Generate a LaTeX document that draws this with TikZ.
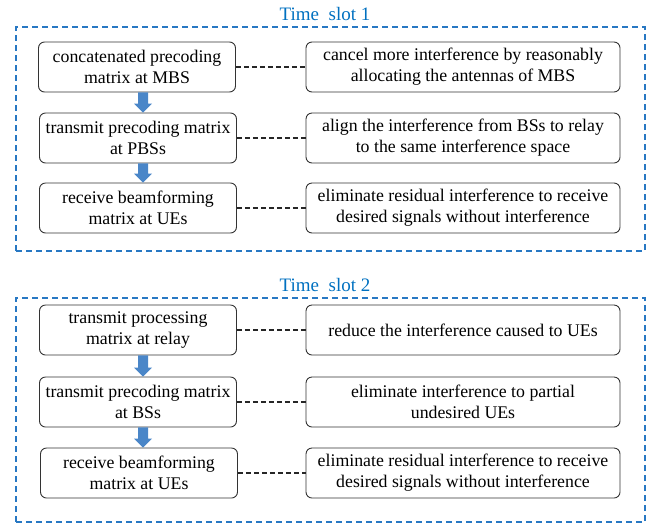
\documentclass[tikz,border=0pt]{standalone}
\usepackage{fontspec}
\setmainfont{Liberation Serif}
\newfontfamily\tnr{Liberation Serif}
\usetikzlibrary{calc}
\definecolor{slotblue}{RGB}{0,112,192}
\definecolor{framblue}{RGB}{40,120,195}
\definecolor{arrowblue}{RGB}{74,134,200}
\begin{document}
\begin{tikzpicture}[x=1pt,y=-1pt,
  box/.style={draw=black!80, line width=0.9pt, rounded corners=6pt, align=center,
    font=\tnr\fontsize{17.8}{21}\selectfont, inner sep=0pt, minimum height=50pt},
  lbox/.style={box, minimum width=197pt},
  rbox/.style={box, minimum width=314pt},
  link/.style={draw=black!85, line width=1.2pt, dash pattern=on 5pt off 3pt},
  frame/.style={draw=framblue, line width=1.3pt, dash pattern=on 6pt off 4pt,
    minimum width=629pt, inner sep=0pt},
  slottitle/.style={text=slotblue, font=\tnr\fontsize{19}{21}\selectfont, inner sep=0pt},
  flow/.style={fill=arrowblue}]
\useasboundingbox (0,0) rectangle (660,523);

% frames and titles
\node[frame, minimum height=224pt] (f1) at (330.5,139) {};
\node[slottitle] (t1) at (325,14) {Time\ \ slot 1};
\node[frame, minimum height=224pt] (f2) at (330.5,410) {};
\node[slottitle] (t2) at (325,285) {Time\ \ slot 2};

% slot 1
\node[lbox] (a1) at (137,67) {concatenated precoding\\matrix at MBS};
\node[lbox] (a2) at (138,138) {transmit precoding matrix\\at PBSs};
\node[lbox] (a3) at (138,208) {receive beamforming\\matrix at UEs};
\node[rbox] (b1) at (463,67) {cancel more interference by reasonably\\allocating the antennas of MBS};
\node[rbox] (b2) at (463,138) {align the interference from BSs to relay\\to the same interference space};
\node[rbox] (b3) at (463,208) {eliminate residual interference to receive\\desired signals without interference};

% slot 2
\node[lbox] (c1) at (138,330) {transmit processing\\matrix at relay};
\node[lbox] (c2) at (138,402) {transmit precoding matrix\\at BSs};
\node[lbox] (c3) at (139,473) {receive beamforming\\matrix at UEs};
\node[rbox] (d1) at (463,330) {reduce the interference caused to UEs};
\node[rbox] (d2) at (463,402) {eliminate interference to partial\\undesired UEs};
\node[rbox] (d3) at (463,473) {eliminate residual interference to receive\\desired signals without interference};

% dashed links
\foreach \l/\r in {a1/b1,a2/b2,a3/b3,c1/d1,c2/d2,c3/d3}
  \draw[link] (\l.east) -- (\r.west);

% block arrows
\foreach \u/\v/\dx in {a1/a2/6,a2/a3/5,c1/c2/5,c2/c3/5}
  \fill[flow] let \p1=(\u.south), \p2=(\v.north) in
    (\x1+\dx pt-5pt,\y1) -- (\x1+\dx pt+5pt,\y1) -- (\x1+\dx pt+5pt,\y2+9pt)
    -- (\x1+\dx pt+9pt,\y2+9pt) -- (\x1+\dx pt,\y2) -- (\x1+\dx pt-9pt,\y2+9pt)
    -- (\x1+\dx pt-5pt,\y2+9pt) -- cycle;
\end{tikzpicture}
\end{document}
